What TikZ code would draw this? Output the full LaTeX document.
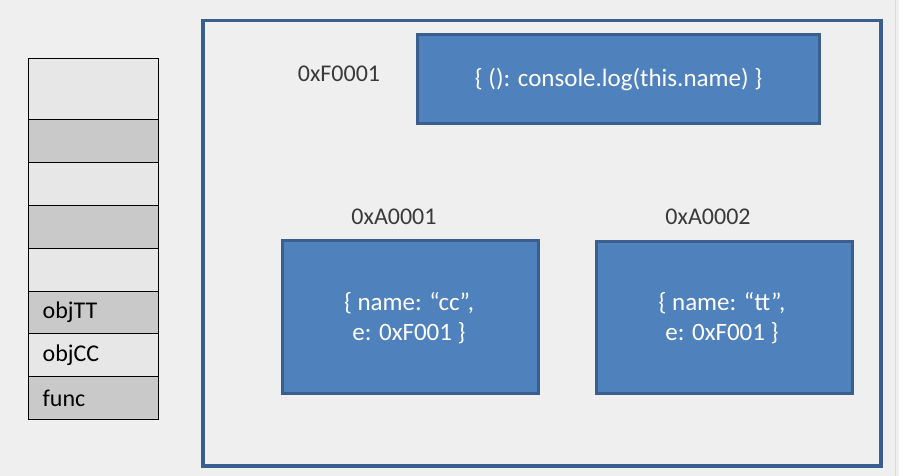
\documentclass[tikz,border=0pt]{standalone}
\usepackage{fontspec}
\setmainfont{Carlito}
\definecolor{bgc}{HTML}{EFEFEF}
\definecolor{lightcell}{HTML}{E7E7E7}
\definecolor{darkcell}{HTML}{C9C9C9}
\definecolor{boxfill}{HTML}{4F81BD}
\definecolor{boxline}{HTML}{3A5F8E}
\definecolor{labelc}{HTML}{3A3A3A}
\begin{document}
\begin{tikzpicture}[x=1pt,y=-1pt,
  cell/.style={draw=black, line width=1.3pt, anchor=north west, inner xsep=14pt, inner ysep=0pt,
    text width=102pt, align=left, minimum height=43pt, font=\fontsize{24}{28}\selectfont, text=black},
  lcell/.style={cell, fill=lightcell},
  dcell/.style={cell, fill=darkcell},
  memframe/.style={draw=boxline, line width=3.5pt, anchor=north west, inner sep=0pt},
  obj/.style={draw=boxline, fill=boxfill, line width=3.2pt, anchor=north west, inner sep=0pt},
  objtext/.style={text=white, font=\fontsize{25}{30}\selectfont, align=center},
  addr/.style={text=labelc, font=\fontsize{24}{28}\selectfont}]
\fill[bgc] (0,0) rectangle (899,476);
\useasboundingbox (0,0) rectangle (899,476);
\draw[line width=1pt, color=black!15] (895,0) -- (895,476);

% stack
\node[lcell, minimum height=61pt] (s1) at (28,58) {};
\node[dcell] (s2) at (28,119) {};
\node[lcell] (s3) at (28,162) {};
\node[dcell] (s4) at (28,205) {};
\node[lcell] (s5) at (28,248) {};
\node[dcell, minimum height=42pt] (s6) at (28,291) {objTT};
\node[lcell] (s7) at (28,333) {objCC};
\node[dcell] (s8) at (28,376) {func};

% heap frame
\node[memframe, minimum width=678pt, minimum height=445pt] (heap) at (201,19) {};

% function object
\node[obj, minimum width=402pt, minimum height=89pt] (fn) at (416,33) {};
\node[objtext] (fntext) at (fn.center) {\{ (): console.log(this.name) \}};
\node[addr] (fnaddr) at (339,74) {0xF0001};

% objects
\node[obj, minimum width=256pt, minimum height=153pt] (oa) at (281,239) {};
\node[objtext] (oatext) at (409,318) {\{ name: “cc”,\\ e: 0xF001 \}};
\node[addr] (oaaddr) at (394,217) {0xA0001};

\node[obj, minimum width=256pt, minimum height=152pt] (ob) at (595,240) {};
\node[objtext] (obtext) at (722,318) {\{ name: “tt”,\\ e: 0xF001 \}};
\node[addr] (obaddr) at (708,217) {0xA0002};
\end{tikzpicture}
\end{document}
